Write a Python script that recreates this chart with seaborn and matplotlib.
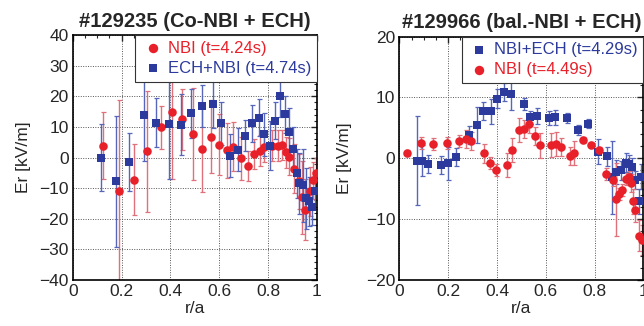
import numpy as np
import pandas as pd
import matplotlib
matplotlib.use("Agg")
import matplotlib.pyplot as plt
from matplotlib.ticker import MultipleLocator
import seaborn as sns

# ---------------- data: left panel (#129235) ----------------
l_nbi_x = [0.125, 0.188, 0.252, 0.305, 0.360, 0.407, 0.449, 0.493, 0.531, 0.565, 0.600, 0.631, 0.657, 0.690, 0.717,
           0.741, 0.765, 0.782, 0.815, 0.840, 0.856, 0.873, 0.887, 0.907, 0.925, 0.937, 0.951, 0.971, 0.985, 0.996]
l_nbi_y = [3.9, -11.1, -7.2, 2.0, 9.8, 15.0, 12.5, 7.6, 2.8, 6.8, 4.2, 2.3, 3.5, -0.2, -2.8,
           1.2, 2.2, 3.4, 3.9, 3.9, 4.1, 1.7, 0.3, -3.7, -7.8, -13.0, -17.0, -11.0, -7.4, -5.2]
l_nbi_e = [11, 30, 11.5, 19.7, 7, 22, 10, 15, 14, 12, 10, 9, 8, 7, 5,
           5, 5, 5, 5, 5, 5, 5, 6, 8, 9, 12, 10, 8, 6, 5]

l_ech_x = [0.117, 0.177, 0.231, 0.293, 0.343, 0.395, 0.442, 0.486, 0.531, 0.574, 0.608, 0.642, 0.676, 0.705, 0.733,
           0.761, 0.784, 0.808, 0.827, 0.848, 0.868, 0.884, 0.900, 0.917, 0.928, 0.944, 0.955, 0.969, 0.980, 0.993]
l_ech_y = [0.0, -7.8, -1.6, 13.9, 11.4, 10.9, 10.7, 14.5, 16.8, 17.6, 11.2, 0.6, 2.5, 7.1, 11.2,
           13.0, 7.6, 3.8, 12.0, 20.1, 14.1, 8.2, 2.8, -5.1, -8.4, -9.1, -13.3, -14.3, -16.0, -10.9]
l_ech_e = [11, 21.5, 9.5, 15, 8, 18, 10, 8, 7, 8, 7, 7, 7, 5, 6,
           6, 7, 8, 6, 7, 6, 8, 7, 8, 10, 12, 10, 8, 6, 6]

# ---------------- data: right panel (#129966) ----------------
r_ech_x = [0.073, 0.093, 0.116, 0.171, 0.200, 0.231, 0.286, 0.316, 0.343, 0.374, 0.399, 0.429, 0.457, 0.509, 0.533, 0.562,
           0.612, 0.637, 0.686, 0.731, 0.774, 0.812, 0.852, 0.871, 0.887, 0.907, 0.928, 0.939, 0.952, 0.966, 0.980, 0.990]
r_ech_y = [-0.4, -0.4, -0.9, -1.1, -0.8, 0.2, 3.8, 5.5, 7.8, 7.7, 9.8, 10.9, 10.5, 8.9, 6.7, 7.0,
           6.6, 6.7, 6.6, 4.6, 5.7, 1.1, 0.3, -3.1, -2.3, -2.0, -0.7, -0.9, -1.5, -3.6, -7.1, -3.0]
r_ech_e = [7.3, 2.5, 1.5, 1.5, 2.7, 1.5, 1.5, 3, 1.5, 2, 1.5, 1.5, 2.5, 1, 1, 1.3,
           1.2, 1.2, 0.8, 0.8, 0.7, 2, 1.5, 6, 2, 1.5, 1.5, 1.5, 1.5, 1.5, 2, 2]

r_nbi_x = [0.030, 0.087, 0.139, 0.193, 0.244, 0.272, 0.295, 0.346, 0.370, 0.395, 0.441, 0.463, 0.488, 0.510, 0.532,
           0.554, 0.576, 0.619, 0.641, 0.660, 0.698, 0.717, 0.754, 0.786, 0.818, 0.848, 0.876, 0.887, 0.901,
           0.914, 0.928, 0.939, 0.948, 0.955, 0.966, 0.980, 0.993]
r_nbi_y = [0.9, 2.5, 2.3, 2.5, 2.9, 3.2, 2.8, 0.8, -0.8, -1.9, -1.1, 1.4, 4.6, 4.8, 5.6,
           3.6, 2.1, 2.2, 2.3, 1.8, 0.4, 0.9, 3.0, 2.2, 1.3, -2.6, -3.6, -6.7, -5.9,
           -5.2, -3.4, -3.1, -4.1, -7.1, -8.5, -12.7, -13.4]
r_nbi_e = [0.5, 1, 1, 1, 1, 1.5, 1.5, 1.5, 1, 1, 2, 2, 2, 1.5, 1.5,
           1.5, 2, 2, 2, 1.5, 1.5, 2, 0.5, 0.5, 0.5, 1, 1, 6, 1,
           1, 1, 1, 1.5, 2, 2, 2.5, 2.5]

titles = ["#129235 (Co-NBI + ECH)", "#129966 (bal.-NBI + ECH)"]
xticks = [0, 0.2, 0.4, 0.6, 0.8, 1]
xticklabels = ["0", "0.2", "0.4", "0.6", "0.8", "1"]

RED = "#e8202a"
BLUE = "#2b3a9c"
RED_E = "#e0707a"
BLUE_E = "#5566bb"

sns.set_style("white")
plt.rcParams['font.family'] = ['Liberation Sans', 'DejaVu Sans']
plt.rcParams['xtick.direction'] = 'in'
plt.rcParams['ytick.direction'] = 'in'

fig = plt.figure(figsize=(6.44, 3.26), dpi=100)
axL = fig.add_axes([0.1129, 0.1411, 0.3793, 0.7515])
axR = fig.add_axes([0.6203, 0.1411, 0.3789, 0.7469])


def draw(ax, series, ylim, ymaj, title, ylpad):
    for (x, y, e, label, color, ecol, marker) in series:
        df = pd.DataFrame({"r/a": x, "Er": y, "err": e})
        ax.errorbar(df["r/a"], df["Er"], yerr=df["err"], fmt='none', ecolor=ecol,
                    elinewidth=1.0, capsize=1.8, capthick=0.9, zorder=2)
        sns.scatterplot(data=df, x="r/a", y="Er", ax=ax, color=color, marker=marker,
                        s=38 if marker == 'o' else 34, edgecolor=color, linewidth=0,
                        label=label, zorder=3, clip_on=True)
    ax.set_xlim(0, 1)
    ax.set_ylim(*ylim)
    ax.set_xticks(xticks)
    ax.set_xticklabels(xticklabels)
    ax.yaxis.set_major_locator(MultipleLocator(ymaj))
    ax.xaxis.set_minor_locator(MultipleLocator(0.05))
    ax.yaxis.set_minor_locator(MultipleLocator(2))
    ax.tick_params(which='both', top=True, right=True, direction='in', labelsize=12.5, pad=3)
    ax.tick_params(which='major', length=4, width=1.0)
    ax.tick_params(which='minor', length=2.5, width=0.8)
    ax.grid(True, which='major', color='#555555', linestyle=(0, (1, 1.5)), linewidth=0.7)
    for sp in ax.spines.values():
        sp.set_color('black')
        sp.set_linewidth(1.2)
    ax.set_xlabel("r/a", fontsize=12.5, labelpad=1)
    ax.set_ylabel("Er [kV/m]", fontsize=12.5, labelpad=ylpad)
    ax.set_title(title, fontsize=14.5, fontweight='bold', pad=6)
    leg = ax.legend(loc='upper right', borderaxespad=0, fancybox=False, framealpha=1,
                    edgecolor='#333333', fontsize=12, handletextpad=0.2, borderpad=0.35,
                    labelspacing=0.3, handlelength=1.4, markerscale=1.1)
    leg.get_frame().set_linewidth(0.8)
    for txt, (_, _, _, _, color, _, _) in zip(leg.get_texts(), series):
        txt.set_color(color)
    leg.set_zorder(5)


draw(axL, [
    (l_nbi_x, l_nbi_y, l_nbi_e, "NBI (t=4.24s)", RED, RED_E, 'o'),
    (l_ech_x, l_ech_y, l_ech_e, "ECH+NBI (t=4.74s)", BLUE, BLUE_E, 's'),
], (-40, 40), 10, titles[0], 6)

draw(axR, [
    (r_ech_x, r_ech_y, r_ech_e, "NBI+ECH (t=4.29s)", BLUE, BLUE_E, 's'),
    (r_nbi_x, r_nbi_y, r_nbi_e, "NBI (t=4.49s)", RED, RED_E, 'o'),
], (-20, 20), 10, titles[1], 10)

fig.savefig("out.png", dpi=100)
